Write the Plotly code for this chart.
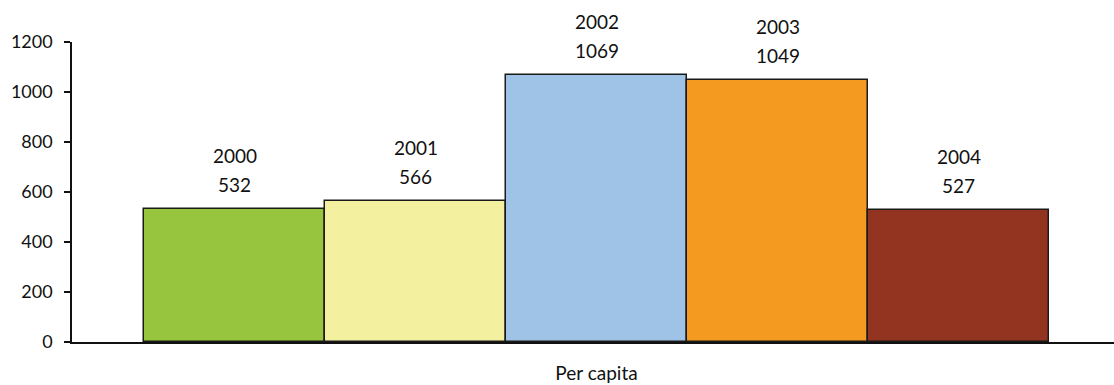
import plotly.graph_objects as go

years = ["2000", "2001", "2002", "2003", "2004"]
values = [532, 566, 1069, 1049, 527]
colors = ["#97C53D", "#F3F09F", "#9FC3E7", "#F49A21", "#933420"]
category_label = "Per capita"
y_ticks = [0, 200, 400, 600, 800, 1000, 1200]

FONT = "Lato, 'Open Sans', sans-serif"

fig = go.Figure()
fig.add_trace(go.Bar(
    x=years, y=values,
    marker=dict(color=colors, line=dict(color="#1a1a1a", width=1.5)),
    width=1.0,
    hoverinfo="skip",
))

for i, (yr, v) in enumerate(zip(years, values)):
    fig.add_annotation(x=i, y=v, text=str(v), showarrow=False,
                       yanchor="bottom", yshift=11,
                       font=dict(family=FONT, size=19, color="#111"))
    fig.add_annotation(x=i, y=v, text=yr, showarrow=False,
                       yanchor="bottom", yshift=40,
                       font=dict(family=FONT, size=19, color="#111"))

fig.update_layout(
    width=1114, height=385,
    margin=dict(l=72, r=0, t=42, b=43, autoexpand=False),
    paper_bgcolor="white", plot_bgcolor="white",
    showlegend=False, bargap=0,
    font=dict(family=FONT, size=18, color="#111"),
)
fig.update_xaxes(
    type="category", range=[-0.898, 4.859],
    tickvals=[years[2]], ticktext=[category_label],
    ticks="", showline=True, linecolor="#111", linewidth=1.5,
    showgrid=False, zeroline=False, ticklabelstandoff=13,
    tickfont=dict(family=FONT, size=19), automargin=False,
)
fig.update_yaxes(
    range=[0, 1200], tickvals=y_ticks,
    ticks="outside", ticklen=6, tickwidth=1.5, tickcolor="#111",
    showline=True, linecolor="#111", linewidth=1.5,
    showgrid=False, zeroline=False, ticklabelstandoff=8,
    tickfont=dict(family=FONT, size=18), automargin=False,
)

fig.write_html("out.html", config={"displayModeBar": False},
               post_script="document.body.style.margin='0';document.body.style.overflow='hidden';")
